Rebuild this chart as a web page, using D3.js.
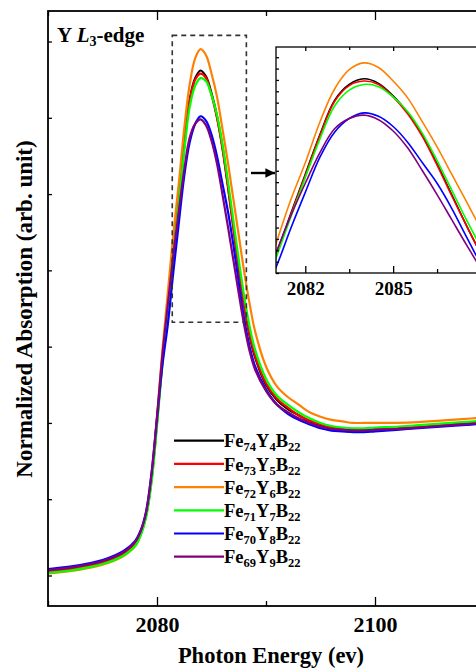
<!DOCTYPE html>
<html>
<head>
<meta charset="utf-8">
<script src="https://cdn.jsdelivr.net/npm/d3@7"></script>
<style>
  body { margin: 0; background: #fff; }
  svg { display: block; }
  text { font-family: "Liberation Serif", "Times New Roman", serif; font-weight: bold; fill: #000; }
</style>
</head>
<body>
<div id="chart"></div>
<script>
// photon energy grid (eV)
var energy = [2070, 2072, 2074, 2075, 2076, 2077, 2078, 2078.5, 2079, 2079.5, 2080, 2080.5, 2081, 2081.5, 2082,
  2082.5, 2083, 2083.5, 2084, 2084.5, 2085, 2085.5, 2086, 2086.5, 2087, 2087.5, 2088, 2088.5, 2089,
  2090, 2091, 2092, 2093, 2094, 2095, 2096, 2097, 2098, 2099, 2100, 2102, 2104, 2106, 2108, 2110];

// normalized absorption for each sample
var fe74 = [0.03, 0.045, 0.07, 0.088, 0.112, 0.148, 0.21, 0.28, 0.40, 0.64, 1.01, 1.42, 1.76, 2.12, 2.47,
  2.82, 3.12, 3.26, 3.31, 3.27, 3.16, 3.01, 2.81, 2.56, 2.29, 2.02, 1.77, 1.57, 1.43,
  1.25, 1.15, 1.09, 1.05, 1.01, 0.98, 0.96, 0.95, 0.945, 0.945, 0.95, 0.96, 0.97, 0.98, 0.99, 1.0];
var fe73 = [0.025, 0.04, 0.065, 0.083, 0.107, 0.143, 0.205, 0.275, 0.395, 0.63, 1.0, 1.41, 1.75, 2.11, 2.46,
  2.81, 3.11, 3.25, 3.29, 3.26, 3.15, 3.00, 2.80, 2.55, 2.28, 2.02, 1.77, 1.58, 1.44,
  1.26, 1.16, 1.10, 1.05, 1.015, 0.99, 0.97, 0.96, 0.955, 0.955, 0.96, 0.965, 0.975, 0.985, 0.995, 1.005];
var fe72 = [0.013, 0.028, 0.053, 0.071, 0.095, 0.131, 0.193, 0.265, 0.39, 0.64, 1.04, 1.48, 1.86, 2.24, 2.57,
  2.93, 3.22, 3.39, 3.45, 3.41, 3.29, 3.14, 2.93, 2.71, 2.47, 2.23, 1.99, 1.78, 1.60,
  1.37, 1.24, 1.17, 1.12, 1.07, 1.04, 1.02, 1.01, 1.0, 1.0, 1.0, 1.0, 1.005, 1.015, 1.025, 1.035];
var fe71 = [0.018, 0.032, 0.058, 0.075, 0.099, 0.134, 0.193, 0.262, 0.38, 0.61, 0.98, 1.39, 1.73, 2.09, 2.44,
  2.78, 3.07, 3.21, 3.26, 3.24, 3.15, 3.02, 2.83, 2.59, 2.33, 2.07, 1.83, 1.63, 1.48,
  1.29, 1.18, 1.12, 1.07, 1.03, 1.0, 0.98, 0.97, 0.965, 0.965, 0.97, 0.975, 0.985, 0.995, 1.005, 1.015];
var fe70 = [0.042, 0.058, 0.083, 0.101, 0.127, 0.164, 0.227, 0.295, 0.42, 0.67, 1.03, 1.38, 1.65, 1.99, 2.31,
  2.62, 2.84, 2.96, 3.01, 2.98, 2.89, 2.75, 2.57, 2.39, 2.17, 1.92, 1.68, 1.50, 1.37,
  1.22, 1.12, 1.06, 1.02, 0.99, 0.965, 0.95, 0.945, 0.94, 0.94, 0.945, 0.955, 0.965, 0.975, 0.985, 0.995];
var fe69 = [0.036, 0.052, 0.077, 0.095, 0.12, 0.157, 0.22, 0.29, 0.415, 0.67, 1.04, 1.45, 1.78, 2.10, 2.39,
  2.66, 2.87, 2.96, 2.99, 2.95, 2.85, 2.70, 2.50, 2.29, 2.07, 1.85, 1.64, 1.47, 1.35,
  1.21, 1.12, 1.07, 1.03, 1.0, 0.975, 0.96, 0.955, 0.95, 0.95, 0.955, 0.96, 0.97, 0.98, 0.99, 1.0];

var seriesValues = [fe74, fe73, fe72, fe71, fe70, fe69];
var seriesColors = ["#000000", "#ff0000", "#ff8000", "#00ff00", "#0000ff", "#800080"];
// legend label parts: Fe<sub>a</sub>Y<sub>b</sub>B<sub>22</sub>
var feSub = ["74", "73", "72", "71", "70", "69"];
var ySub = ["4", "5", "6", "7", "8", "9"];

var xTicks = [2080, 2100];
var xMinorTicks = [2070, 2090, 2110];
var yTicks = [0, 0.5, 1, 1.5, 2, 2.5, 3, 3.5];
var insetXTicks = [2082, 2085];
var insetXMinorTicks = [2083.5, 2086.5];
var insetYTicks = [1.6, 1.7, 1.8, 1.9, 2.0, 2.1, 2.2, 2.3, 2.4, 2.5, 2.6, 2.7, 2.8, 2.9, 3.0, 3.1, 3.2, 3.3, 3.4, 3.5];
var zoomBox = { x: [2081.4, 2088.2], y: [1.66, 3.54] };

var W = 476, H = 669;
var m = { left: 48, top: 11, right: 484, bottom: 606 };

var svg = d3.select("#chart").append("svg")
  .attr("width", W)
  .attr("height", H);

var x = d3.scaleLinear().domain([2070, 2110]).range([m.left, m.right]);
var y = d3.scaleLinear().domain([-0.2, 3.7]).range([m.bottom, m.top]);

svg.append("clipPath").attr("id", "mainClip")
  .append("rect").attr("x", m.left).attr("y", m.top)
  .attr("width", m.right - m.left).attr("height", m.bottom - m.top);

var line = d3.line()
  .x(function(d) { return x(d[0]); })
  .y(function(d) { return y(d[1]); })
  .curve(d3.curveCatmullRom.alpha(0.5));

var main = svg.append("g").attr("clip-path", "url(#mainClip)");
seriesValues.forEach(function(vals, i) {
  main.append("path")
    .attr("d", line(energy.map(function(e, j) { return [e, vals[j]]; })))
    .attr("fill", "none")
    .attr("stroke", seriesColors[i])
    .attr("stroke-width", 2.2);
});

// axes
function styleAxis(g) {
  g.select(".domain").remove();
  g.selectAll("line").attr("stroke", "#000").attr("stroke-width", 1.3);
}
svg.append("g").attr("transform", "translate(0," + m.bottom + ")")
  .call(d3.axisBottom(x).tickValues(xTicks).tickSize(-9).tickPadding(10).tickFormat(d3.format("d")))
  .call(styleAxis)
  .selectAll("text").style("font-size", "22px");
svg.append("g").attr("transform", "translate(0," + m.bottom + ")")
  .call(d3.axisBottom(x).tickValues(xMinorTicks).tickSize(-5).tickFormat(""))
  .call(styleAxis);
svg.append("g").attr("transform", "translate(0," + m.top + ")")
  .call(d3.axisTop(x).tickValues(xTicks).tickSize(-9).tickFormat(""))
  .call(styleAxis);
svg.append("g").attr("transform", "translate(0," + m.top + ")")
  .call(d3.axisTop(x).tickValues(xMinorTicks).tickSize(-5).tickFormat(""))
  .call(styleAxis);
svg.append("g").attr("transform", "translate(" + m.left + ",0)")
  .call(d3.axisLeft(y).tickValues(yTicks).tickSize(-4).tickFormat(""))
  .call(styleAxis);

svg.append("rect")
  .attr("x", m.left).attr("y", m.top)
  .attr("width", m.right - m.left).attr("height", m.bottom - m.top)
  .attr("fill", "none").attr("stroke", "#000").attr("stroke-width", 1.8);

// axis titles
svg.append("text")
  .attr("x", 271).attr("y", 663)
  .attr("text-anchor", "middle")
  .style("font-size", "22.5px")
  .text("Photon Energy (ev)");
svg.append("text")
  .attr("transform", "translate(32,309) rotate(-90)")
  .attr("text-anchor", "middle")
  .style("font-size", "23px")
  .text("Normalized Absorption (arb. unit)");

// edge label
var title = svg.append("text").attr("x", 57).attr("y", 42).style("font-size", "21px");
title.append("tspan").text("Y ");
title.append("tspan").style("font-style", "italic").text("L");
title.append("tspan").attr("dy", 4).style("font-size", "14px").text("3");
title.append("tspan").attr("dy", -4).text("-edge");

// dashed zoom box + arrow
svg.append("rect")
  .attr("x", x(zoomBox.x[0])).attr("y", y(zoomBox.y[1]))
  .attr("width", x(zoomBox.x[1]) - x(zoomBox.x[0]))
  .attr("height", y(zoomBox.y[0]) - y(zoomBox.y[1]))
  .attr("fill", "none").attr("stroke", "#333")
  .attr("stroke-width", 1.6).attr("stroke-dasharray", "5,4");

// inset
var ix = d3.scaleLinear().domain([2081, 2088]).range([276, 481]);
var iy = d3.scaleLinear().domain([1.6, 3.59]).range([273, 47]);

svg.append("rect").attr("x", 276).attr("y", 47).attr("width", 205).attr("height", 226)
  .attr("fill", "#fff");

svg.append("defs").append("marker")
  .attr("id", "head").attr("viewBox", "0 0 10 10")
  .attr("refX", 10).attr("refY", 5)
  .attr("markerWidth", 4).attr("markerHeight", 4)
  .attr("orient", "auto")
  .append("path").attr("d", "M0,0 L10,5 L0,10 z").attr("fill", "#000");
svg.append("line")
  .attr("x1", 251).attr("x2", 275).attr("y1", 173).attr("y2", 173)
  .attr("stroke", "#000").attr("stroke-width", 2.4)
  .attr("marker-end", "url(#head)");

svg.append("clipPath").attr("id", "insetClip")
  .append("rect").attr("x", 276).attr("y", 47).attr("width", 205).attr("height", 226);

var iline = d3.line()
  .x(function(d) { return ix(d[0]); })
  .y(function(d) { return iy(d[1]); })
  .curve(d3.curveCatmullRom.alpha(0.5));

var inset = svg.append("g").attr("clip-path", "url(#insetClip)");
seriesValues.forEach(function(vals, i) {
  inset.append("path")
    .attr("d", iline(energy.map(function(e, j) { return [e, vals[j]]; })))
    .attr("fill", "none")
    .attr("stroke", seriesColors[i])
    .attr("stroke-width", 1.6);
});

svg.append("g").attr("transform", "translate(0,273)")
  .call(d3.axisBottom(ix).tickValues(insetXTicks).tickSize(-7).tickPadding(9).tickFormat(d3.format("d")))
  .call(styleAxis)
  .selectAll("text").style("font-size", "19px");
svg.append("g").attr("transform", "translate(0,273)")
  .call(d3.axisBottom(ix).tickValues(insetXMinorTicks).tickSize(-4).tickFormat(""))
  .call(styleAxis);
svg.append("g").attr("transform", "translate(0,47)")
  .call(d3.axisTop(ix).tickValues(insetXTicks).tickSize(-4).tickFormat(""))
  .call(styleAxis);
svg.append("g").attr("transform", "translate(0,47)")
  .call(d3.axisTop(ix).tickValues(insetXMinorTicks).tickSize(-3).tickFormat(""))
  .call(styleAxis);
svg.append("g").attr("transform", "translate(276,0)")
  .call(d3.axisLeft(iy).tickValues(insetYTicks).tickSize(-3).tickFormat(""))
  .call(styleAxis);
svg.append("rect").attr("x", 276).attr("y", 47).attr("width", 205).attr("height", 226)
  .attr("fill", "none").attr("stroke", "#000").attr("stroke-width", 1.3);

// legend
var legend = svg.append("g");
seriesColors.forEach(function(c, i) {
  var ly = 440.7 + i * 23.2;
  legend.append("line")
    .attr("x1", 174).attr("x2", 224).attr("y1", ly).attr("y2", ly)
    .attr("stroke", c).attr("stroke-width", 2.2);
  var t = legend.append("text").attr("x", 224).attr("y", ly + 6.6).style("font-size", "18.5px");
  t.append("tspan").text("Fe");
  t.append("tspan").attr("dy", 4).style("font-size", "12.5px").text(feSub[i]);
  t.append("tspan").attr("dy", -4).text("Y");
  t.append("tspan").attr("dy", 4).style("font-size", "12.5px").text(ySub[i]);
  t.append("tspan").attr("dy", -4).text("B");
  t.append("tspan").attr("dy", 4).style("font-size", "12.5px").text("22");
});
</script>
</body>
</html>
